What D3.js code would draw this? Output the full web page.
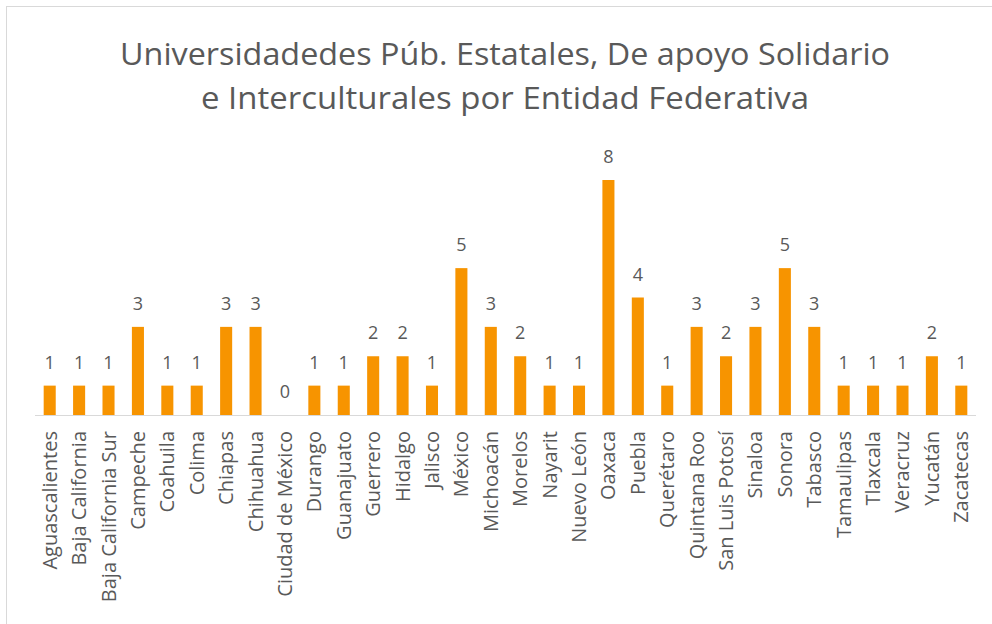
<!DOCTYPE html>
<html>
<head>
<meta charset="utf-8">
<script src="https://cdn.jsdelivr.net/npm/d3@7"></script>
<style>
  body { margin: 0; background: #fff; }
  text { font-family: "Open Sans", sans-serif; fill: #595959; }
</style>
</head>
<body>
<svg id="chart" width="992" height="624"></svg>
<script>
// data
var estados = ["Aguascalientes", "Baja California", "Baja California Sur", "Campeche", "Coahuila",
  "Colima", "Chiapas", "Chihuahua", "Ciudad de México", "Durango", "Guanajuato", "Guerrero",
  "Hidalgo", "Jalisco", "México", "Michoacán", "Morelos", "Nayarit", "Nuevo León", "Oaxaca",
  "Puebla", "Querétaro", "Quintana Roo", "San Luis Potosí", "Sinaloa", "Sonora", "Tabasco",
  "Tamaulipas", "Tlaxcala", "Veracruz", "Yucatán", "Zacatecas"];
var universidades = [1, 1, 1, 3, 1, 1, 3, 3, 0, 1, 1, 2, 2, 1, 5, 3, 2, 1, 1, 8, 4, 1, 3, 2, 3, 5, 3, 1, 1, 1, 2, 1];
var titulo = ["Universidadedes Púb. Estatales, De apoyo Solidario",
  "e Interculturales por Entidad Federativa"];

var data = estados.map(function(d, i) { return {estado: d, n: universidades[i]}; });

var svg = d3.select("#chart");

// chart frame
svg.append("rect")
    .attr("x", 6.5).attr("y", 6.5)
    .attr("width", 1000).attr("height", 640)
    .attr("fill", "none")
    .attr("stroke", "#d9d9d9");

svg.selectAll(".titulo")
    .data(titulo)
    .enter()
    .append("text")
    .attr("class", "titulo")
    .attr("x", 505)
    .attr("y", function(d, i) { return 65 + i * 44; })
    .attr("text-anchor", "middle")
    .style("font-size", "31px")
    .attr("textLength", function(d, i) { return i == 0 ? 770 : 608; })
    .attr("lengthAdjust", "spacingAndGlyphs")
    .text(function(d) { return d; });

var x = d3.scaleBand()
    .domain(estados)
    .range([35, 976])
    .paddingInner(0.59)
    .paddingOuter(0.295);

var y = d3.scaleLinear()
    .domain([0, 8])
    .range([415, 180]);

svg.selectAll(".bar")
    .data(data)
    .enter()
    .append("rect")
    .attr("class", "bar")
    .attr("x", function(d) { return x(d.estado); })
    .attr("y", function(d) { return y(d.n); })
    .attr("width", x.bandwidth())
    .attr("height", function(d) { return y(0) - y(d.n); })
    .attr("fill", "#f79400");

// baseline
svg.append("line")
    .attr("x1", 35).attr("x2", 976)
    .attr("y1", y(0) + 0.5).attr("y2", y(0) + 0.5)
    .attr("stroke", "#d9d9d9");

svg.selectAll(".bar_label")
    .data(data)
    .enter()
    .append("text")
    .attr("class", "bar_label")
    .attr("x", function(d) { return x(d.estado) + x.bandwidth() / 2; })
    .attr("y", function(d) { return y(d.n) - 17; })
    .attr("text-anchor", "middle")
    .style("font-size", "18px")
    .text(function(d) { return d.n; });

var xAxis = svg.append("g")
    .attr("transform", "translate(0," + y(0) + ")")
    .call(d3.axisBottom(x).tickSize(0).tickPadding(0));
xAxis.select(".domain").remove();
xAxis.selectAll("text")
    .attr("transform", "rotate(-90)")
    .attr("x", -16)
    .attr("y", 0)
    .attr("dy", "0.35em")
    .attr("text-anchor", "end")
    .style("font-size", "20px")
    .style("font-family", "Open Sans, sans-serif")
    .attr("fill", "#595959");
</script>
</body>
</html>
